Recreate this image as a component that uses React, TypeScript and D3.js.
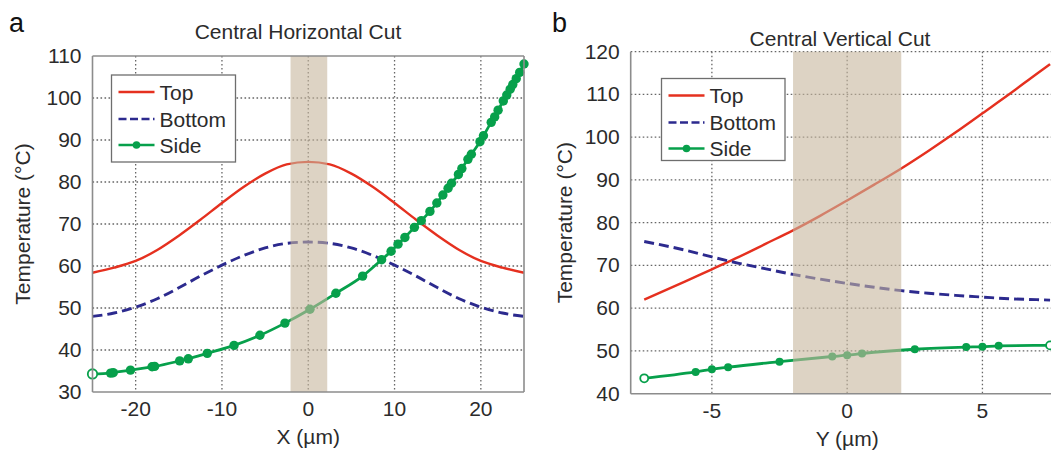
import React from 'react';
import * as d3 from 'd3';

const W = 1051;
const H = 450;
const FONT = '"Liberation Sans", Arial, Helvetica, sans-serif';
const TEXT = '#2b2b2b';

const RED = '#e5301f';
const BLUE = '#2c2a8e';
const GREEN = '#07a04b';

// ---- Panel a: central horizontal cut ----
const xA = [-25, -22.5, -20, -17.5, -15, -12.5, -10, -7.5, -5, -2.5, 0, 2.5, 5, 7.5, 10, 12.5, 15, 17.5, 20, 22.5, 25];
const topA = [58.4, 59.6, 61.2, 63.8, 67.2, 71.0, 75.0, 78.8, 82.0, 84.2, 84.8, 84.2, 82.0, 78.8, 75.0, 71.0, 67.2, 63.8, 61.2, 59.6, 58.4];
const bottomA = [48.0, 48.8, 50.2, 52.2, 54.8, 57.6, 60.2, 62.5, 64.3, 65.4, 65.7, 65.4, 64.3, 62.5, 60.2, 57.6, 54.8, 52.2, 50.2, 48.8, 48.0];
const sideXA = [-25.0, -22.9, -22.6, -20.6, -18.1, -17.8, -14.9, -13.9, -11.7, -8.6, -5.6, -2.7, 0.2, 3.2, 6.3, 8.5, 9.6, 10.4, 11.2, 12.3, 13.1, 14.1, 14.9, 15.6, 16.2, 16.6, 17.4, 17.8, 18.5, 18.9, 19.9, 20.3, 21.2, 21.6, 22.0, 22.6, 23.0, 23.4, 23.7, 24.1, 24.5, 25.0];
const sideA = [34.3, 34.5, 34.6, 35.2, 36.0, 36.1, 37.4, 37.9, 39.2, 41.1, 43.5, 46.4, 49.7, 53.5, 57.6, 61.5, 63.5, 65.2, 66.8, 69.2, 70.8, 73.0, 75.0, 76.9, 78.5, 79.7, 81.8, 83.2, 85.4, 86.6, 89.6, 91.0, 94.2, 95.5, 97.1, 99.3, 100.7, 102.1, 103.2, 104.6, 106.1, 108.1];
const bandA = [-2.05, 2.2];
const ticksXA = [-20, -10, 0, 10, 20];
const ticksYA = [30, 40, 50, 60, 70, 80, 90, 100, 110];

// ---- Panel b: central vertical cut ----
const xB = [-7.5, -6, -5, -4, -3, -2, -1, 0, 1, 2, 3, 4, 5, 6, 7, 7.5];
const topB = [62.0, 66.2, 69.1, 72.0, 75.1, 78.2, 81.6, 85.2, 88.9, 92.7, 96.8, 101.1, 105.6, 110.1, 114.8, 117.1];
const bottomB = [75.6, 73.6, 72.0, 70.5, 69.2, 67.9, 66.8, 65.8, 64.9, 64.1, 63.5, 63.0, 62.6, 62.2, 62.0, 61.9];
const sideXB = [-7.5, -5.6, -5.0, -4.4, -2.5, -0.55, 0, 0.55, 2.5, 4.4, 5.0, 5.6, 7.5];
const sideB = [43.6, 45.1, 45.7, 46.2, 47.5, 48.7, 49.0, 49.4, 50.4, 50.9, 51.0, 51.2, 51.3];
const bandB = [-2, 2];
const ticksXB = [-5, 0, 5];
const ticksYB = [40, 50, 60, 70, 80, 90, 100, 110, 120];

const legendLabels = ['Top', 'Bottom', 'Side'];

type PanelProps = {
  letter: string;
  letterX: number;
  title: string;
  titleX: number;
  titleY: number;
  xLabel: string;
  yLabelX: number;
  xDomain: [number, number];
  yDomain: [number, number];
  left: number;
  right: number;
  top: number;
  bottom: number;
  xs: number[];
  top_: number[];
  bottom_: number[];
  sideX: number[];
  side: number[];
  openEnds: boolean[];
  band: number[];
  ticksX: number[];
  ticksY: number[];
  closedTop: boolean;
  closedRight: boolean;
  legend: { x: number; y: number; w: number; h: number };
  markerR: number;
};

function Panel(p: PanelProps) {
  const x = d3.scaleLinear().domain(p.xDomain).range([p.left, p.right]);
  const y = d3.scaleLinear().domain(p.yDomain).range([p.bottom, p.top]);
  const line = d3
    .line<[number, number]>()
    .x((d) => x(d[0]))
    .y((d) => y(d[1]))
    .curve(d3.curveMonotoneX);

  const topPts = p.xs.map((v, i) => [v, p.top_[i]] as [number, number]);
  const botPts = p.xs.map((v, i) => [v, p.bottom_[i]] as [number, number]);
  const sidePts = p.sideX.map((v, i) => [v, p.side[i]] as [number, number]);

  const grid = { stroke: '#666', strokeWidth: 1.3, strokeDasharray: '1.6,2.4' };
  const frame = '#8c8c8c';
  const yMax = p.yDomain[1];
  const yMin = p.yDomain[0];

  const lg = p.legend;
  const rowY = [lg.y + 17, lg.y + 44, lg.y + 70];
  const lx0 = lg.x + 7;
  const lx1 = lg.x + 43;

  return (
    <g>
      <text x={p.letterX} y={32} fontSize={27} fill="#111" fontFamily={FONT}>
        {p.letter}
      </text>
      <text x={p.titleX} y={p.titleY} fontSize={21} fill={TEXT} textAnchor="middle" fontFamily={FONT}>
        {p.title}
      </text>

      {/* grid */}
      {p.ticksX.map((t) => (
        <line key={'gx' + t} x1={x(t)} x2={x(t)} y1={p.top} y2={p.bottom} {...grid} />
      ))}
      {p.ticksY
        .filter((t) => t !== yMin && (t !== yMax || !p.closedTop))
        .map((t) => (
          <line key={'gy' + t} x1={p.left} x2={p.right} y1={y(t)} y2={y(t)} {...grid} />
        ))}

      {/* series */}
      <path d={line(topPts) || ''} fill="none" stroke={RED} strokeWidth={2.4} />
      <path d={line(botPts) || ''} fill="none" stroke={BLUE} strokeWidth={2.9} strokeDasharray="10,5" />
      <path d={line(sidePts) || ''} fill="none" stroke={GREEN} strokeWidth={2.8} />
      {sidePts.map((d, i) => {
        const open = (i === 0 && p.openEnds[0]) || (i === sidePts.length - 1 && p.openEnds[1]);
        return (
          <circle
            key={'m' + i}
            cx={x(d[0])}
            cy={y(d[1])}
            r={p.markerR}
            fill={open ? '#fff' : GREEN}
            stroke={GREEN}
            strokeWidth={open ? 1.8 : 0}
          />
        );
      })}

      {/* shaded region */}
      <rect
        x={x(p.band[0])}
        y={p.top}
        width={x(p.band[1]) - x(p.band[0])}
        height={p.bottom - p.top}
        fill="#c6b69c"
        opacity={0.6}
      />

      {/* frame */}
      <line x1={p.left} x2={p.left} y1={p.top} y2={p.bottom} stroke={frame} strokeWidth={1.6} />
      <line x1={p.left} x2={p.right} y1={p.bottom} y2={p.bottom} stroke={frame} strokeWidth={1.6} />
      {p.closedTop && <line x1={p.left} x2={p.right} y1={p.top} y2={p.top} stroke={frame} strokeWidth={1.6} />}
      {p.closedRight && <line x1={p.right} x2={p.right} y1={p.top} y2={p.bottom} stroke={frame} strokeWidth={1.6} />}

      {/* ticks */}
      {p.ticksY.map((t) => (
        <text key={'ty' + t} x={p.left - 11} y={y(t) + 7} fontSize={21} fill={TEXT} textAnchor="end" fontFamily={FONT}>
          {String(t)}
        </text>
      ))}
      {p.ticksX.map((t) => (
        <text key={'tx' + t} x={x(t)} y={p.bottom + 24} fontSize={21} fill={TEXT} textAnchor="middle" fontFamily={FONT}>
          {String(t)}
        </text>
      ))}
      <text
        x={(x(p.xDomain[0]) + x(p.xDomain[1])) / 2}
        y={p.bottom + 52}
        fontSize={21}
        fill={TEXT}
        textAnchor="middle"
        fontFamily={FONT}
      >
        {p.xLabel}
      </text>
      <text
        transform={`translate(${p.yLabelX},${(p.top + p.bottom) / 2}) rotate(-90)`}
        fontSize={21}
        fill={TEXT}
        textAnchor="middle"
        fontFamily={FONT}
      >
        Temperature (°C)
      </text>

      {/* legend */}
      <rect x={lg.x} y={lg.y} width={lg.w} height={lg.h} fill="#fff" stroke="#6e6e6e" strokeWidth={1.3} />
      <line x1={lx0} x2={lx1} y1={rowY[0]} y2={rowY[0]} stroke={RED} strokeWidth={2.4} />
      <line x1={lx0} x2={lx1} y1={rowY[1]} y2={rowY[1]} stroke={BLUE} strokeWidth={2.6} strokeDasharray="8,3.5" />
      <line x1={lx0} x2={lx1} y1={rowY[2]} y2={rowY[2]} stroke={GREEN} strokeWidth={2.6} />
      <circle cx={(lx0 + lx1) / 2} cy={rowY[2]} r={3.8} fill={GREEN} />
      {legendLabels.map((l, i) => (
        <text key={l} x={lx1 + 5} y={rowY[i] + 7.5} fontSize={21} fill={TEXT} fontFamily={FONT}>
          {l}
        </text>
      ))}
    </g>
  );
}

export default function App() {
  return (
    <svg
      width={W}
      height={H}
      viewBox={`0 0 ${W} ${H}`}
      style={{ position: 'absolute', left: 0, top: 0, background: '#fff' }}
    >
      <rect x={0} y={0} width={W} height={H} fill="#fff" />
      <Panel
        letter="a"
        letterX={9}
        title="Central Horizontal Cut"
        titleX={298}
        titleY={39}
        xLabel="X (µm)"
        yLabelX={30}
        xDomain={[-25, 25]}
        yDomain={[30, 110]}
        left={92.5}
        right={524}
        top={56}
        bottom={392}
        xs={xA}
        top_={topA}
        bottom_={bottomA}
        sideX={sideXA}
        side={sideA}
        openEnds={[true, false]}
        band={bandA}
        ticksX={ticksXA}
        ticksY={ticksYA}
        closedTop={true}
        closedRight={true}
        legend={{ x: 111.5, y: 75, w: 124, h: 87 }}
        markerR={4.7}
      />
      <Panel
        letter="b"
        letterX={552}
        title="Central Vertical Cut"
        titleX={840}
        titleY={46}
        xLabel="Y (µm)"
        yLabelX={572}
        xDomain={[-8, 8]}
        yDomain={[40, 120]}
        left={630.7}
        right={1063.6}
        top={51.7}
        bottom={393.7}
        xs={xB}
        top_={topB}
        bottom_={bottomB}
        sideX={sideXB}
        side={sideB}
        openEnds={[true, true]}
        band={bandB}
        ticksX={ticksXB}
        ticksY={ticksYB}
        closedTop={false}
        closedRight={false}
        legend={{ x: 661.5, y: 78.5, w: 123.5, h: 82 }}
        markerR={4.0}
      />
    </svg>
  );
}
